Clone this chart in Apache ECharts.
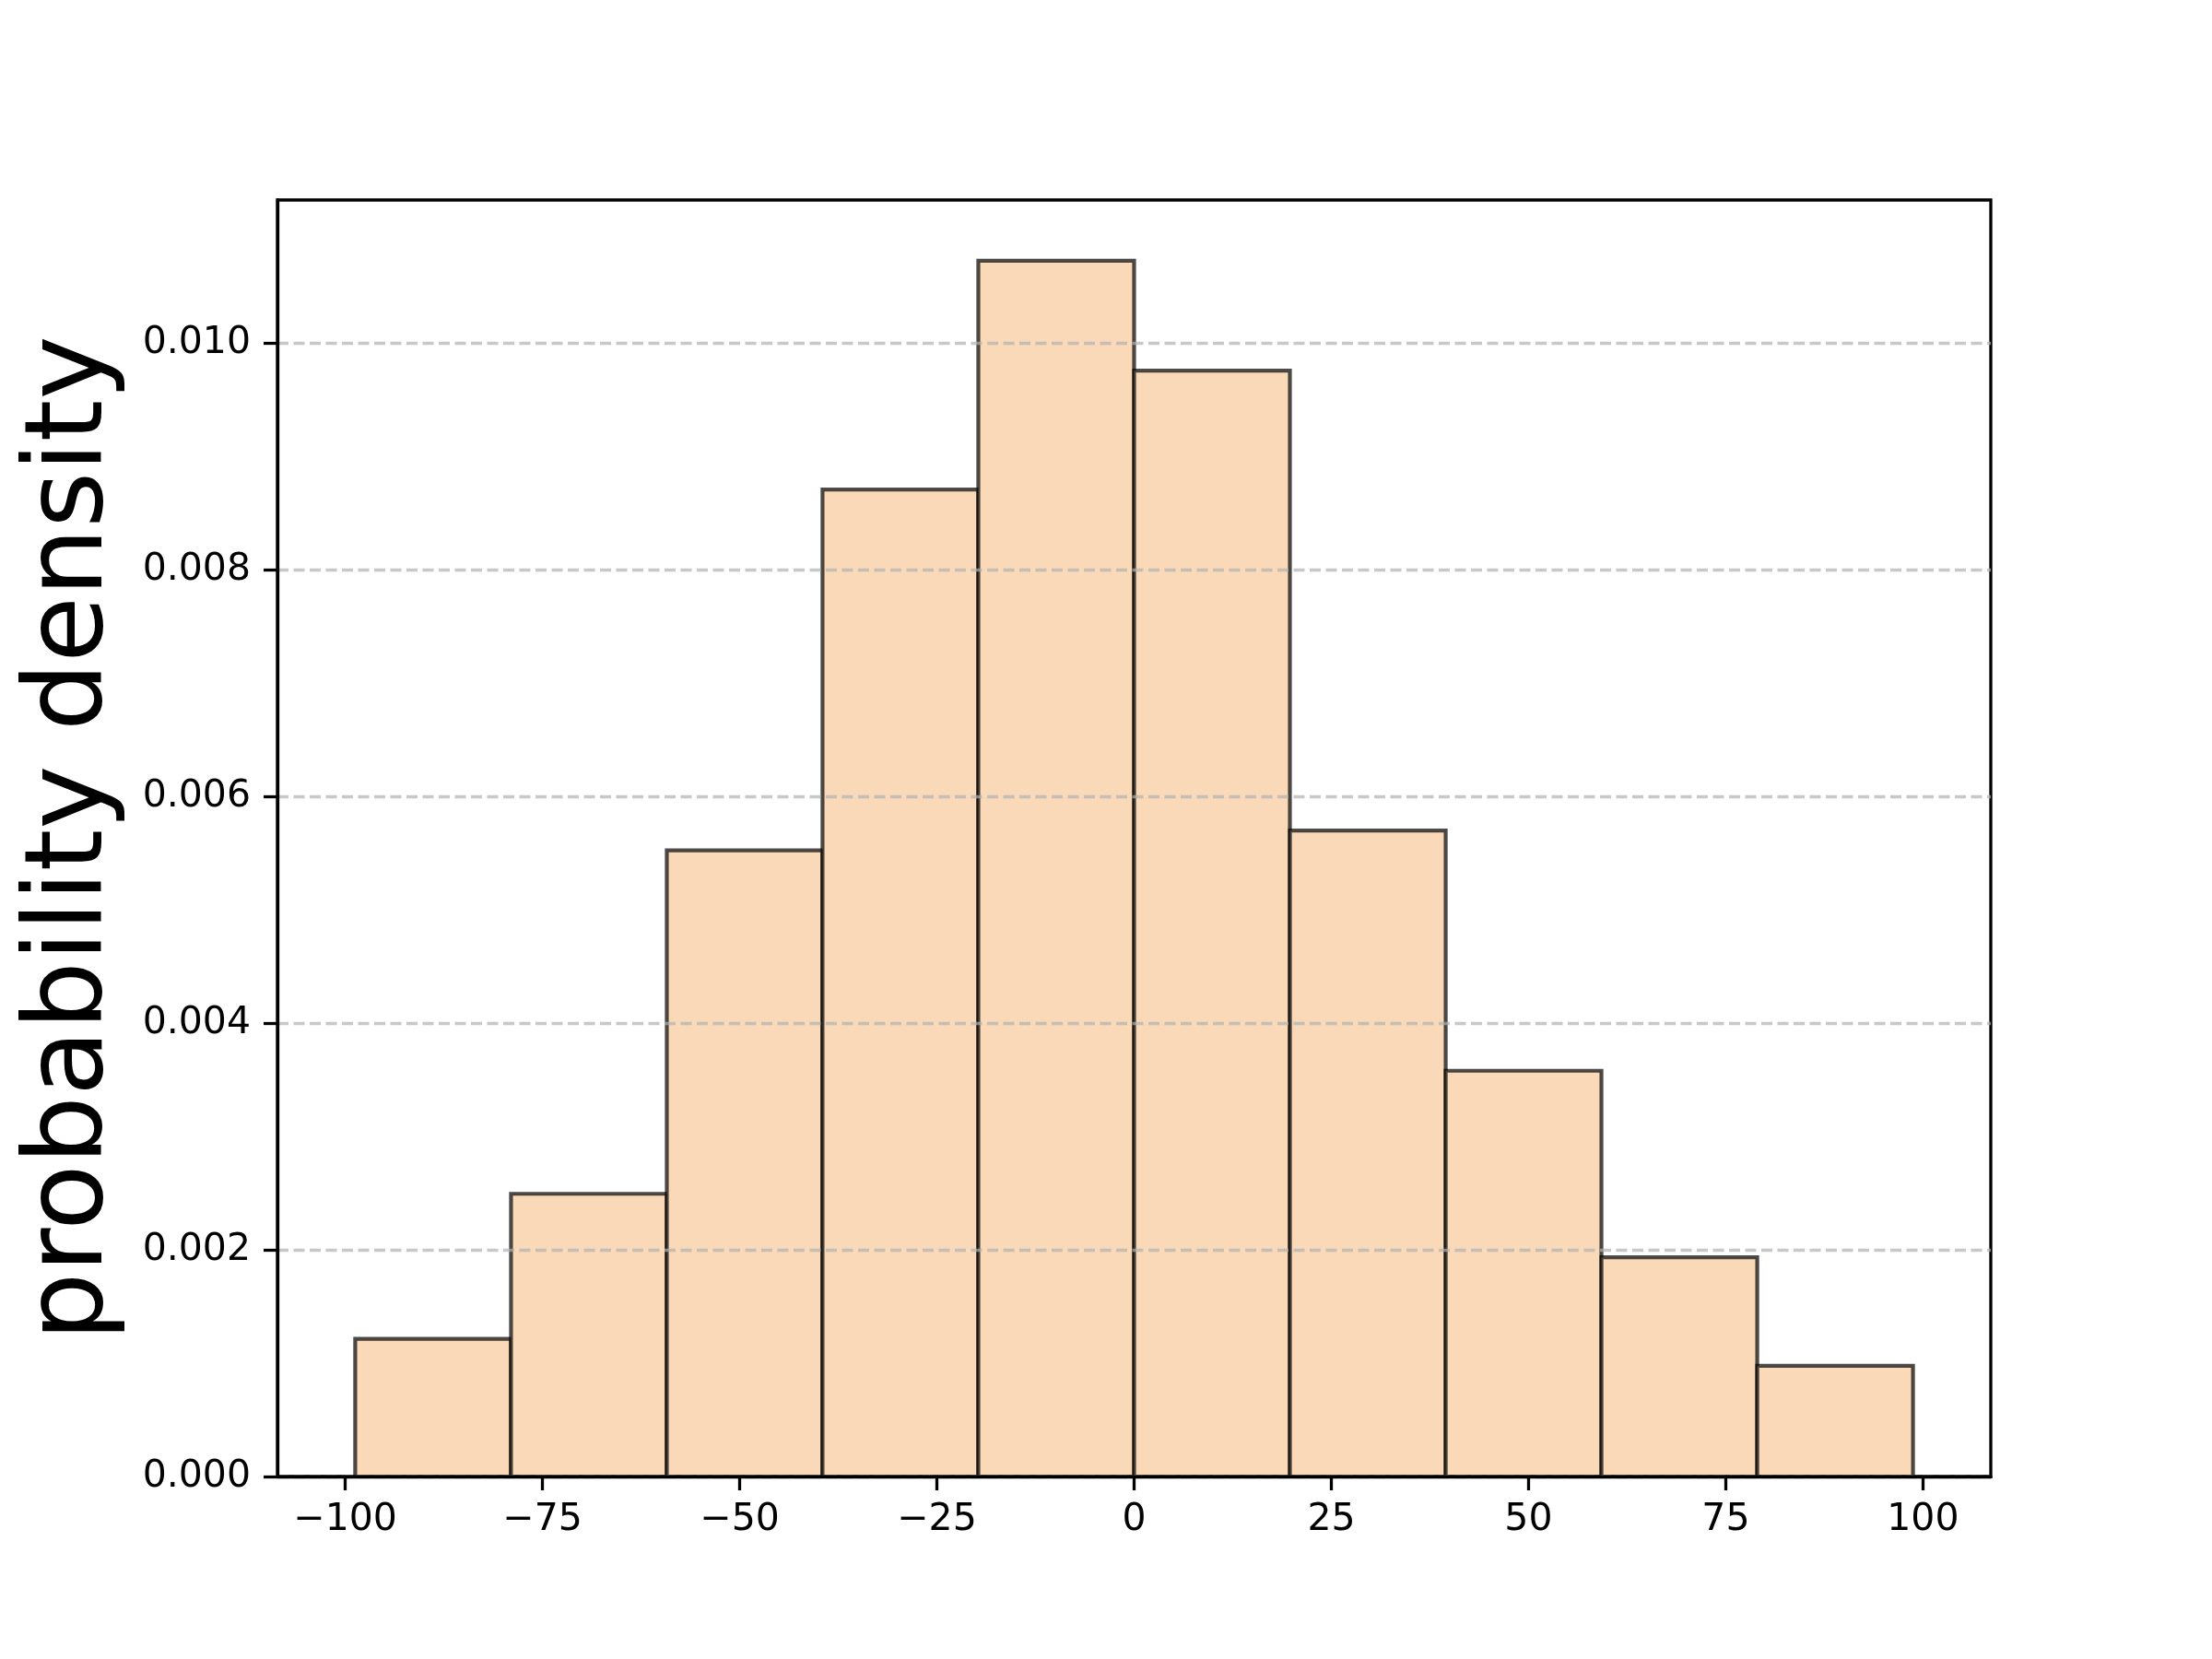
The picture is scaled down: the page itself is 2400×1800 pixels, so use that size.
<!DOCTYPE html>
<html>
<head>
<meta charset="utf-8">
<script src="https://cdn.jsdelivr.net/npm/echarts@6/dist/echarts.min.js"></script>
<style>
html,body{margin:0;padding:0;background:#fff;}
#chart{width:2400px;height:1800px;}
</style>
</head>
<body>
<div id="chart"></div>
<script>
// Histogram bin edges (x) and probability densities (y)
const binEdges = [-98.74, -78.99, -59.24, -39.50, -19.75, 0, 19.75, 39.50, 59.24, 78.99, 98.74];
const densities = [0.001215, 0.002495, 0.005526, 0.008710, 0.010729, 0.009759, 0.005700, 0.003581, 0.001934, 0.000977];
const xTicks = [-100, -75, -50, -25, 0, 25, 50, 75, 100];
const yTicks = [0, 0.002, 0.004, 0.006, 0.008, 0.010];
const yLabel = 'probability density';

const histData = densities.map((d, i) => [binEdges[i], binEdges[i + 1], d]);

const FONT = 'DejaVu Sans';
const chart = echarts.init(document.getElementById('chart'), null, {renderer: 'canvas'});
chart.setOption({
  animation: false,
  backgroundColor: '#ffffff',
  grid: {
    left: 301, right: 240, top: 217, bottom: 198,
    show: true, borderColor: '#000', borderWidth: 3.3, backgroundColor: 'transparent'
  },
  xAxis: {
    type: 'value',
    min: -108.6, max: 108.6,
    z: 8,
    zlevel: 1,
    axisLine: {show: true, onZero: false, lineStyle: {color: '#000', width: 3.3}},
    axisTick: {show: true, inside: false, length: 15, lineStyle: {color: '#000', width: 3.3}, customValues: xTicks},
    axisLabel: {
      customValues: xTicks, margin: 27, color: '#000', fontFamily: FONT, fontSize: 41,
      formatter: v => (v < 0 ? '\u2212' + Math.abs(v) : String(v))
    },
    splitLine: {show: false}
  },
  yAxis: {
    type: 'value',
    min: 0, max: 0.011265,
    z: 5,
    zlevel: 1,
    name: yLabel,
    nameLocation: 'middle',
    nameRotate: 90,
    nameGap: 163,
    nameTextStyle: {fontFamily: FONT, fontSize: 117, color: '#000'},
    axisLine: {show: true, onZero: false, lineStyle: {color: '#000', width: 3.3}},
    axisTick: {show: true, inside: false, length: 15, lineStyle: {color: '#000', width: 3.3}, customValues: yTicks},
    axisLabel: {
      customValues: yTicks, margin: 29, color: '#000', fontFamily: FONT, fontSize: 41,
      formatter: v => v.toFixed(3)
    },
    splitLine: {
      show: true,
      lineStyle: {color: 'rgba(176,176,176,0.7)', width: 3.3, type: [12, 5.5]}
    }
  },
  series: [{
    type: 'custom',
    z: 2,
    data: histData,
    encode: {x: [0, 1], y: 2},
    renderItem: function (params, api) {
      const p0 = api.coord([api.value(0), api.value(2)]);
      const p1 = api.coord([api.value(1), 0]);
      return {
        type: 'rect',
        shape: {x: p0[0], y: p0[1], width: p1[0] - p0[0], height: p1[1] - p0[1]},
        style: {fill: '#F9D9B8', stroke: 'rgba(0,0,0,0.7)', lineWidth: 4.2}
      };
    }
  }]
});
</script>
</body>
</html>
